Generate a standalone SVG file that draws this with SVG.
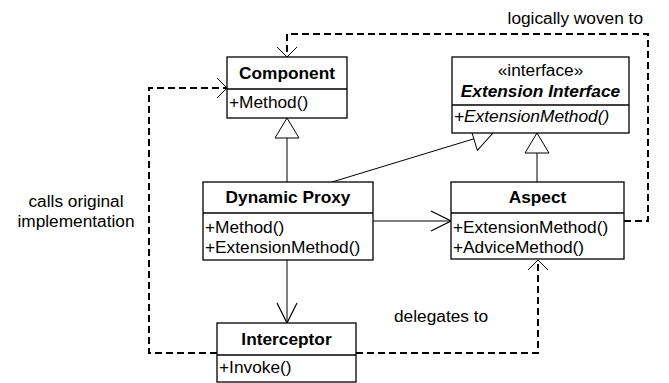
<svg xmlns="http://www.w3.org/2000/svg" width="669" height="383" viewBox="0 0 669 383">
<style>
text{font-family:"Liberation Sans",Arial,Helvetica,sans-serif;font-size:17.3px;fill:#000}
.t{font-weight:bold;text-anchor:middle}
.c{text-anchor:middle}
.box{fill:#fff;stroke:#000;stroke-width:1.3}
.sep{stroke:#000;stroke-width:1.3}
.solid{fill:none;stroke:#000;stroke-width:1}
.dash{fill:none;stroke:#000;stroke-width:2;stroke-dasharray:7 4}
</style>
<defs>
<marker id="tri" viewBox="-21 -13 22 26" refX="0" refY="0" markerWidth="22" markerHeight="26" markerUnits="userSpaceOnUse" orient="auto">
<path d="M0,0 L-20,-12 L-20,12 Z" fill="#fff" stroke="#000" stroke-width="1"/>
</marker>
<marker id="open" viewBox="-21 -11 22 22" refX="0" refY="0" markerWidth="22" markerHeight="22" markerUnits="userSpaceOnUse" orient="auto">
<path d="M-20,-10 L0,0 L-20,10" fill="none" stroke="#000" stroke-width="1.2"/>
</marker>
<marker id="openS" viewBox="-12 -11 13 22" refX="0" refY="0" markerWidth="13" markerHeight="22" markerUnits="userSpaceOnUse" orient="auto">
<path d="M-10,-10 L0,0 L-10,10" fill="none" stroke="#000" stroke-width="1"/>
</marker>
</defs>
<g id="connectors">
<path class="solid" d="M287,182 V118" marker-end="url(#tri)"/>
<path class="solid" d="M332,182 L493,133" marker-end="url(#tri)"/>
<path class="solid" d="M537,182 V133" marker-end="url(#tri)"/>
<path class="solid" d="M373,221 H451" marker-end="url(#open)"/>
<path class="solid" d="M287,260 V323" marker-end="url(#open)"/>
<path class="dash" d="M217,353 H149 V88 H227" marker-end="url(#openS)"/>
<path class="dash" d="M356,353 H538 V260" marker-end="url(#openS)"/>
<path class="dash" d="M624,221 H648 V34 H287 V57" marker-end="url(#openS)"/>
<text x="643" y="24" style="text-anchor:end">logically woven to</text>
<text class="c" x="76" y="207">calls original</text>
<text class="c" x="76" y="227">implementation</text>
<text x="394" y="322">delegates to</text>
</g>
<g id="component">
<rect class="box" x="227" y="57" width="120" height="61"/>
<line class="sep" x1="227" y1="89" x2="347" y2="89"/>
<text class="t" x="287" y="79">Component</text>
<text x="229" y="108">+Method()</text>
</g>
<g id="extension-interface">
<rect class="box" x="452" y="57" width="177" height="76"/>
<line class="sep" x1="452" y1="105" x2="629" y2="105"/>
<text class="c" x="540.5" y="76">«interface»</text>
<text class="t" x="540.5" y="97" font-style="italic">Extension Interface</text>
<text x="454" y="122" font-style="italic">+ExtensionMethod()</text>
</g>
<g id="dynamic-proxy">
<rect class="box" x="203" y="182" width="170" height="78"/>
<line class="sep" x1="203" y1="213" x2="373" y2="213"/>
<text class="t" x="288" y="203">Dynamic Proxy</text>
<text x="205" y="233">+Method()</text>
<text x="205" y="253">+ExtensionMethod()</text>
</g>
<g id="aspect">
<rect class="box" x="451" y="182" width="173" height="77"/>
<line class="sep" x1="451" y1="213" x2="624" y2="213"/>
<text class="t" x="537.5" y="203">Aspect</text>
<text x="453" y="233">+ExtensionMethod()</text>
<text x="453" y="253">+AdviceMethod()</text>
</g>
<g id="interceptor">
<rect class="box" x="217" y="323" width="139" height="59"/>
<line class="sep" x1="217" y1="355" x2="356" y2="355"/>
<text class="t" x="286.5" y="345">Interceptor</text>
<text x="219" y="373">+Invoke()</text>
</g>
</svg>
